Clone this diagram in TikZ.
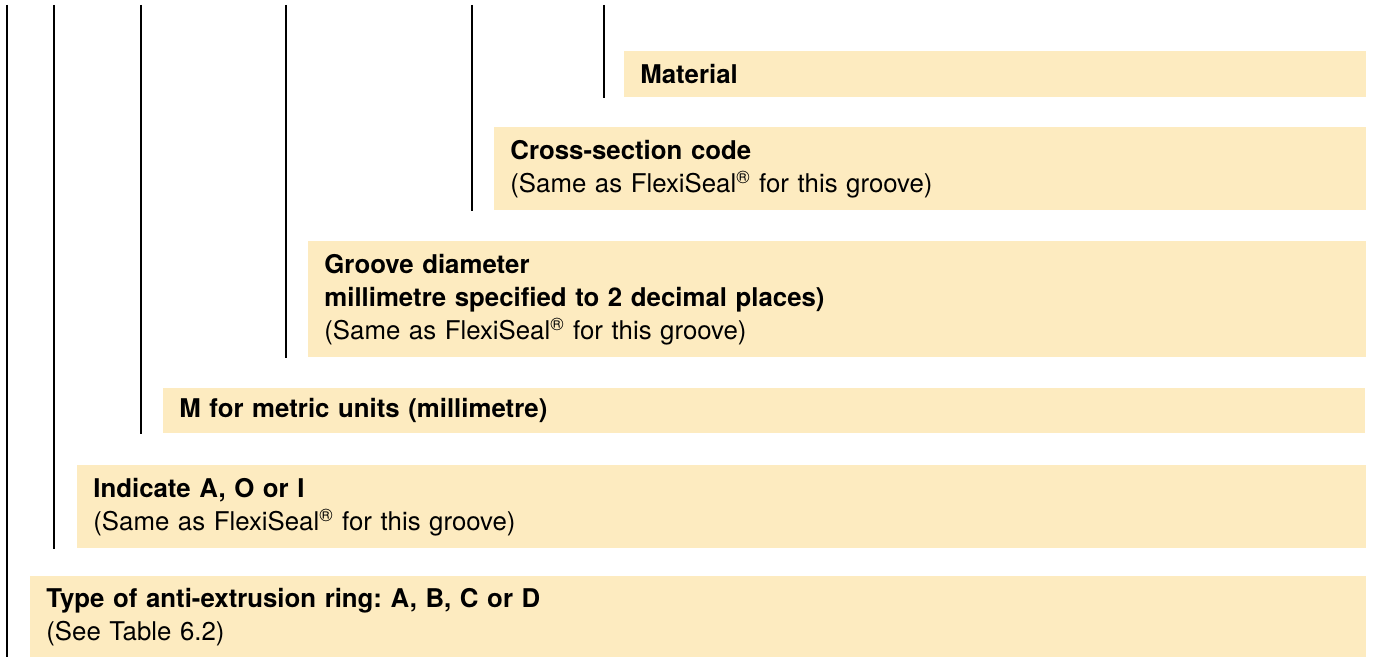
\documentclass[tikz,border=0pt]{standalone}
\usepackage{fontspec}
\setmainfont{TeX Gyre Heros}
\usepackage{xcolor}
\usetikzlibrary{positioning,calc}

\definecolor{boxfill}{HTML}{FDEBC0}

\tikzset{
    codebox/.style={fill=boxfill, anchor=north west, align=left, inner xsep=8pt, inner ysep=0pt,
        font=\fontsize{12.9}{16.5}\selectfont\frenchspacing},
    leader/.style={line width=1pt, black}
}
\newcommand{\regmark}{\textsuperscript{\textregistered}}

\begin{document}
\begin{tikzpicture}[x=0.5pt, y=-0.5pt]
    \useasboundingbox (0,0) rectangle (1373,657);

    % boxes, top to bottom
    \node[codebox, text width=355pt, minimum height=23pt] (material) at (624,51) {\textbf{Material}};
    \node[codebox, text width=420pt, minimum height=41.5pt] (xsection) at (494,127)
        {\textbf{Cross-section code}\\(Same as FlexiSeal\regmark{} for this groove)};
    \node[codebox, text width=513pt, minimum height=58pt] (groove) at (308,241)
        {\textbf{Groove diameter}\\\textbf{millimetre specified to 2 decimal places)}\\(Same as FlexiSeal\regmark{} for this groove)};
    \node[codebox, text width=585pt, minimum height=22.5pt] (metric) at (163,388) {\textbf{M for metric units (millimetre)}};
    \node[codebox, text width=628.5pt, minimum height=41.5pt] (indicate) at (77,465)
        {\textbf{Indicate A, O or I}\\(Same as FlexiSeal\regmark{} for this groove)};
    \node[codebox, text width=652pt, minimum height=40.5pt] (ringtype) at (30,576)
        {\textbf{Type of anti-extrusion ring: A, B, C or D}\\(See Table 6.2)};

    % leader lines
    \foreach \i/\x/\b in {1/7/ringtype, 2/54/indicate, 3/141/metric, 4/286/groove, 5/472/xsection, 6/604/material} {
        \coordinate (top\i) at (\x,5);
        \draw[leader] (top\i) -- (top\i |- \b.south);
    }
\end{tikzpicture}
\end{document}
